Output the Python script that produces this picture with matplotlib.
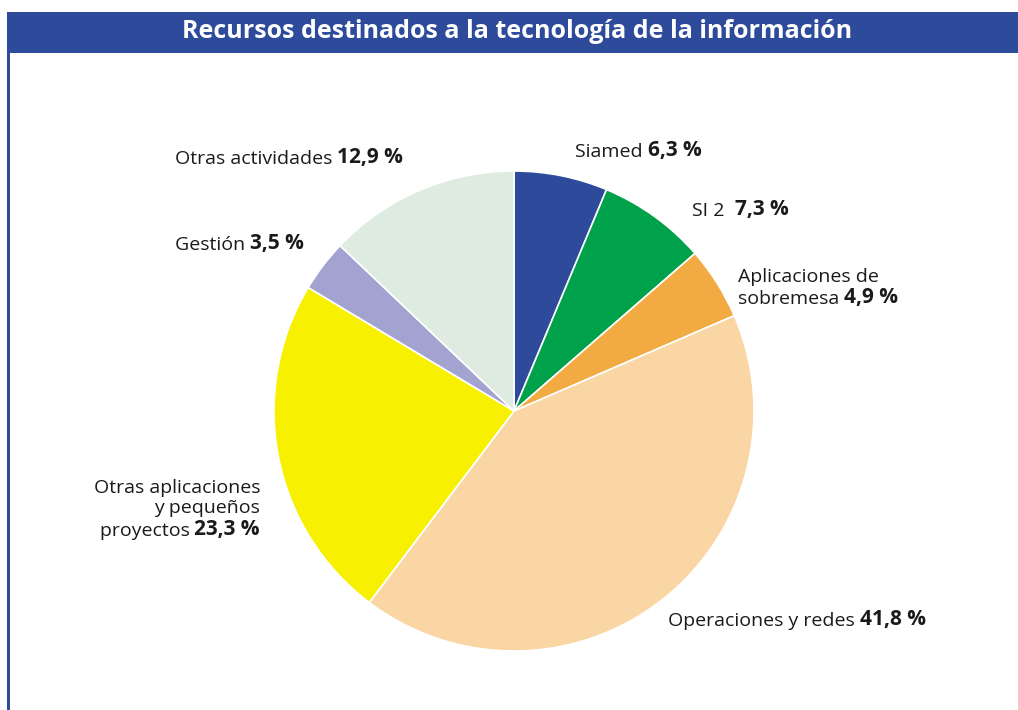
import matplotlib.pyplot as plt
import numpy as np
from matplotlib.patches import Rectangle

def etiqueta(ax, x, y, normal, negrita, ha='left'):
    # Escribe una etiqueta con una parte normal y otra en negrita
    # (coordenadas en pixeles de la figura)
    fig = ax.figure
    W, H = fig.get_size_inches() * fig.dpi
    if ha == 'left':
        t1 = fig.text(x / W, 1 - y / H, normal, ha='left', va='center', fontsize=14, color='#1a1a1a')
        ax.annotate(negrita, xy=(1, 0), xycoords=t1, ha='left', va='bottom', fontsize=15,
                    fontweight='bold', color='#1a1a1a', annotation_clip=False)
    else:
        t2 = fig.text(x / W, 1 - y / H, negrita, ha='right', va='center', fontsize=15,
                      fontweight='bold', color='#1a1a1a')
        ax.annotate(normal, xy=(0, 0), xycoords=t2, ha='right', va='bottom', fontsize=14,
                    color='#1a1a1a', annotation_clip=False)

def recursos():
    # Esta funcion dibuja el reparto de los recursos
    # destinados a la tecnologia de la informacion

    plt.rcParams['font.family'] = ['Open Sans', 'DejaVu Sans']

    nombres = ['Siamed', 'SI 2', 'Aplicaciones de sobremesa', 'Operaciones y redes',
               'Otras aplicaciones y pequeños proyectos', 'Gestión', 'Otras actividades']
    valores = np.array([6.3, 7.3, 4.9, 41.8, 23.3, 3.5, 12.9])
    colores = ['#2E4A9B', '#00A14B', '#F2AA42', '#FAD6A5', '#F7F000', '#A3A3D2', '#DDEBE0']

    fig = plt.figure(figsize=(10.18, 7.1), dpi=100)
    W, H = 1018, 710

    # barra del titulo y borde izquierdo
    fig.patches.append(Rectangle((7 / W, 1 - 53 / H), 1 - 7 / W, 41 / H, transform=fig.transFigure,
                                 facecolor='#2E4A9B', edgecolor='none'))
    fig.patches.append(Rectangle((7 / W, 0), 3 / W, 1 - 53 / H, transform=fig.transFigure,
                                 facecolor='#2E4A9B', edgecolor='none'))
    fig.text(517 / W, 1 - 32 / H, 'Recursos destinados a la tecnología de la información',
             ha='center', va='center', color='white', fontsize=18, fontweight='bold')

    # pastel centrado en (514, 411) con radio 240 px
    cx, cy, r = 514, 411, 240
    ax = fig.add_axes([(cx - r) / W, (H - cy - r) / H, 2 * r / W, 2 * r / H])
    ax.pie(valores, colors=colores, startangle=90, counterclock=False, radius=1,
           wedgeprops=dict(edgecolor='white', linewidth=1.2))
    ax.set_xlim(-1, 1)
    ax.set_ylim(-1, 1)
    ax.axis('off')

    etiqueta(ax, 575, 152, 'Siamed ', '6,3 %')
    etiqueta(ax, 692, 211, 'SI 2  ', '7,3 %')
    fig.text(738 / W, 1 - 277 / H, 'Aplicaciones de', ha='left', va='center', fontsize=14, color='#1a1a1a')
    etiqueta(ax, 738, 299, 'sobremesa ', '4,9 %')
    etiqueta(ax, 668, 621, 'Operaciones y redes ', '41,8 %')
    fig.text(260 / W, 1 - 488 / H, 'Otras aplicaciones', ha='right', va='center', fontsize=14, color='#1a1a1a')
    fig.text(260 / W, 1 - 508 / H, 'y pequeños', ha='right', va='center', fontsize=14, color='#1a1a1a')
    etiqueta(ax, 260, 530, 'proyectos ', '23,3 %', ha='right')
    etiqueta(ax, 304, 244, 'Gestión ', '3,5 %', ha='right')
    etiqueta(ax, 403, 158, 'Otras actividades ', '12,9 %', ha='right')

    plt.savefig('out.png', dpi=100)

    return

# Grafica
recursos()
